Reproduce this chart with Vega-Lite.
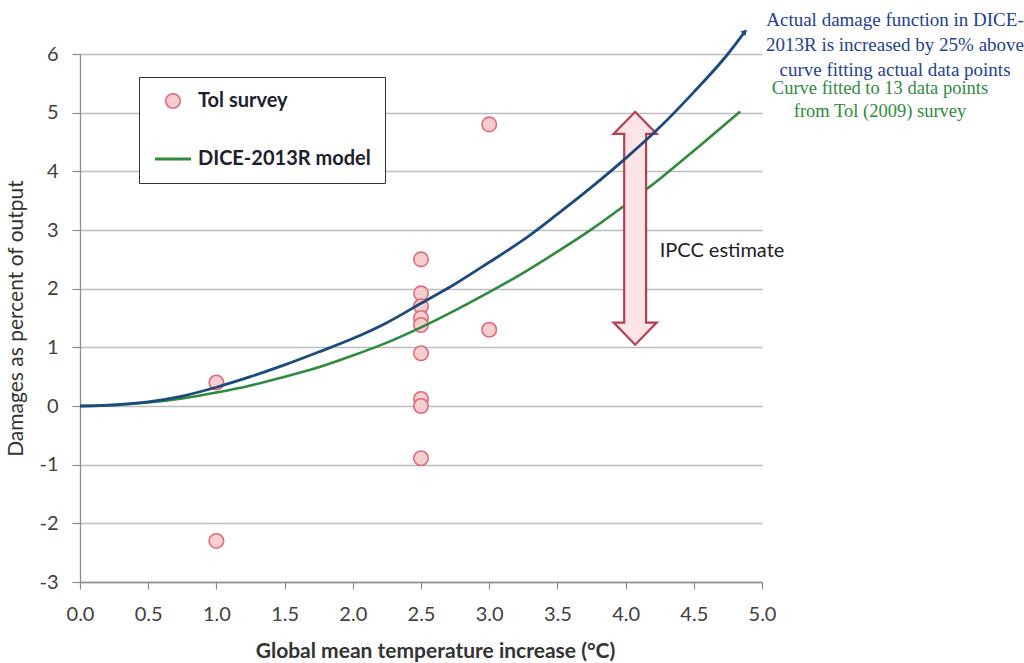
{
  "$schema": "https://vega.github.io/schema/vega-lite/v6.json",
  "autosize": "none",
  "width": 682,
  "height": 528,
  "padding": {"left": 80, "top": 54, "right": 262, "bottom": 81},
  "background": "white",
  "config": {
    "view": {"stroke": null},
    "font": "Lato",
    "axis": {
      "labelFont": "Lato",
      "labelFontSize": 20,
      "labelColor": "#404040",
      "titleFont": "Lato",
      "titleColor": "#333333",
      "domainColor": "#8c8c8c",
      "tickColor": "#8c8c8c",
      "gridColor": "#bdbdbd",
      "gridWidth": 1.3,
      "domainWidth": 1.3,
      "tickWidth": 1.2
    }
  },
  "datasets": {
    "tol": [
      {"T": 1.0, "damage": 0.4, "series": "Tol survey"},
      {"T": 1.0, "damage": -2.3, "series": "Tol survey"},
      {"T": 2.5, "damage": 2.5, "series": "Tol survey"},
      {"T": 2.5, "damage": 1.92, "series": "Tol survey"},
      {"T": 2.5, "damage": 1.7, "series": "Tol survey"},
      {"T": 2.5, "damage": 1.5, "series": "Tol survey"},
      {"T": 2.5, "damage": 1.38, "series": "Tol survey"},
      {"T": 2.5, "damage": 0.9, "series": "Tol survey"},
      {"T": 2.5, "damage": 0.12, "series": "Tol survey"},
      {"T": 2.5, "damage": 0.0, "series": "Tol survey"},
      {"T": 2.5, "damage": -0.89, "series": "Tol survey"},
      {"T": 3.0, "damage": 4.8, "series": "Tol survey"},
      {"T": 3.0, "damage": 1.3, "series": "Tol survey"}
    ],
    "curves": [
      {"T": 0.0, "v": 0.0, "curve": "Actual DICE-2013R"},
      {"T": 0.25, "v": 0.02, "curve": "Actual DICE-2013R"},
      {"T": 0.5, "v": 0.07, "curve": "Actual DICE-2013R"},
      {"T": 0.75, "v": 0.17, "curve": "Actual DICE-2013R"},
      {"T": 1.0, "v": 0.32, "curve": "Actual DICE-2013R"},
      {"T": 1.25, "v": 0.5, "curve": "Actual DICE-2013R"},
      {"T": 1.5, "v": 0.7, "curve": "Actual DICE-2013R"},
      {"T": 1.75, "v": 0.92, "curve": "Actual DICE-2013R"},
      {"T": 2.0, "v": 1.15, "curve": "Actual DICE-2013R"},
      {"T": 2.25, "v": 1.42, "curve": "Actual DICE-2013R"},
      {"T": 2.5, "v": 1.75, "curve": "Actual DICE-2013R"},
      {"T": 2.75, "v": 2.08, "curve": "Actual DICE-2013R"},
      {"T": 3.0, "v": 2.45, "curve": "Actual DICE-2013R"},
      {"T": 3.25, "v": 2.83, "curve": "Actual DICE-2013R"},
      {"T": 3.5, "v": 3.27, "curve": "Actual DICE-2013R"},
      {"T": 3.75, "v": 3.73, "curve": "Actual DICE-2013R"},
      {"T": 4.0, "v": 4.22, "curve": "Actual DICE-2013R"},
      {"T": 4.25, "v": 4.75, "curve": "Actual DICE-2013R"},
      {"T": 4.5, "v": 5.35, "curve": "Actual DICE-2013R"},
      {"T": 4.75, "v": 6.0, "curve": "Actual DICE-2013R"},
      {"T": 4.875, "v": 6.38, "curve": "Actual DICE-2013R"},
      {"T": 0.0, "v": 0.0, "curve": "DICE-2013R model"},
      {"T": 0.25, "v": 0.015, "curve": "DICE-2013R model"},
      {"T": 0.5, "v": 0.06, "curve": "DICE-2013R model"},
      {"T": 0.75, "v": 0.13, "curve": "DICE-2013R model"},
      {"T": 1.0, "v": 0.23, "curve": "DICE-2013R model"},
      {"T": 1.25, "v": 0.35, "curve": "DICE-2013R model"},
      {"T": 1.5, "v": 0.5, "curve": "DICE-2013R model"},
      {"T": 1.75, "v": 0.66, "curve": "DICE-2013R model"},
      {"T": 2.0, "v": 0.86, "curve": "DICE-2013R model"},
      {"T": 2.25, "v": 1.08, "curve": "DICE-2013R model"},
      {"T": 2.5, "v": 1.34, "curve": "DICE-2013R model"},
      {"T": 2.75, "v": 1.63, "curve": "DICE-2013R model"},
      {"T": 3.0, "v": 1.94, "curve": "DICE-2013R model"},
      {"T": 3.25, "v": 2.27, "curve": "DICE-2013R model"},
      {"T": 3.5, "v": 2.63, "curve": "DICE-2013R model"},
      {"T": 3.75, "v": 3.01, "curve": "DICE-2013R model"},
      {"T": 4.0, "v": 3.43, "curve": "DICE-2013R model"},
      {"T": 4.25, "v": 3.87, "curve": "DICE-2013R model"},
      {"T": 4.5, "v": 4.35, "curve": "DICE-2013R model"},
      {"T": 4.84, "v": 5.02, "curve": "DICE-2013R model"}
    ],
    "ipcc": [
      {"T": 4.07, "low": 1.04, "high": 5.02, "mid": 3.03, "label": "IPCC estimate", "labelT": 4.25, "labelY": 2.64}
    ],
    "notes": [
      {"T": 5.975, "y": 6.58, "text": ["Actual damage function in DICE-", "2013R is increased by 25% above", "curve fitting actual data points"], "kind": "blue"},
      {"T": 5.865, "y": 5.42, "text": ["Curve fitted to 13 data points", "from Tol (2009) survey"], "kind": "green"}
    ]
  },
  "layer": [
    {
      "data": {"name": "tol"},
      "mark": {"type": "point", "filled": true, "opacity": 1},
      "encoding": {
        "x": {
          "field": "T", "type": "quantitative",
          "scale": {"domain": [0, 5], "nice": false, "zero": false},
          "axis": {
            "title": "Global mean temperature increase (°C)",
            "titleFontSize": 21, "titleFontWeight": "bold", "titlePadding": 16, "titleX": 355,
            "values": [0, 0.5, 1, 1.5, 2, 2.5, 3, 3.5, 4, 4.5, 5],
            "format": ".1f", "grid": false, "tickSize": 7, "labelPadding": 15, "labelFlush": false
          }
        },
        "y": {
          "field": "damage", "type": "quantitative",
          "scale": {"domain": [-3, 6], "nice": false, "zero": false},
          "axis": {
            "title": "Damages as percent of output",
            "titleFontSize": 21, "titleFontWeight": "normal", "titlePadding": 12,
            "values": [-3, -2, -1, 0, 1, 2, 3, 4, 5, 6],
            "labelExpr": "datum.value < 0 ? '-' + abs(datum.value) : '' + datum.value",
            "grid": true, "tickSize": 8, "labelPadding": 14
          }
        },
        "fill": {
          "field": "series", "type": "nominal",
          "scale": {"domain": ["Tol survey", "DICE-2013R model"], "range": ["#f8cdd1", "#2e8b3e"]},
          "legend": {
            "title": null, "orient": "none", "legendX": 59, "legendY": 23,
            "padding": 14, "strokeColor": "#333333", "fillColor": "white",
            "rowPadding": 27, "labelFont": "Lato", "labelFontSize": 20, "labelFontWeight": "bold",
            "labelColor": "#1e1e2e", "labelOffset": 5, "labelLimit": 400, "symbolOpacity": 1
          }
        },
        "stroke": {
          "field": "series", "type": "nominal",
          "scale": {"domain": ["Tol survey", "DICE-2013R model"], "range": ["#de6b7b", "#2e8b3e"]}
        },
        "shape": {
          "field": "series", "type": "nominal",
          "scale": {"domain": ["Tol survey", "DICE-2013R model"], "range": ["circle", "stroke"]}
        },
        "size": {
          "field": "series", "type": "ordinal",
          "scale": {"domain": ["Tol survey", "DICE-2013R model"], "range": [210, 1300]}
        },
        "strokeWidth": {
          "field": "series", "type": "ordinal",
          "scale": {"domain": ["Tol survey", "DICE-2013R model"], "range": [1.6, 3]}
        }
      }
    },
    {
      "data": {"name": "curves"},
      "transform": [{"filter": "datum.curve === 'DICE-2013R model'"}],
      "mark": {"type": "line", "interpolate": "monotone", "color": "#2e8b3e", "strokeWidth": 2.6},
      "encoding": {
        "x": {"field": "T", "type": "quantitative"},
        "y": {"field": "v", "type": "quantitative"}
      }
    },
    {
      "data": {"name": "ipcc"},
      "mark": {
        "type": "point", "filled": true, "opacity": 1,
        "shape": "M0,-1L0.185,-0.81L0.094,-0.81L0.094,0.81L0.185,0.81L0,1L-0.185,0.81L-0.094,0.81L-0.094,-0.81L-0.185,-0.81Z",
        "size": 54289, "fill": "#fde4e6", "stroke": "#b5404f", "strokeWidth": 2.2
      },
      "encoding": {
        "x": {"field": "T", "type": "quantitative"},
        "y": {"field": "mid", "type": "quantitative"}
      }
    },
    {
      "data": {"name": "curves"},
      "transform": [{"filter": "datum.curve === 'Actual DICE-2013R'"}],
      "mark": {"type": "line", "interpolate": "monotone", "color": "#1c4a7e", "strokeWidth": 2.8},
      "encoding": {
        "x": {"field": "T", "type": "quantitative"},
        "y": {"field": "v", "type": "quantitative"}
      }
    },
    {
      "data": {"name": "curves"},
      "transform": [{"filter": "datum.curve === 'Actual DICE-2013R' && datum.T > 4.8"}],
      "mark": {"type": "point", "shape": "triangle-up", "filled": true, "opacity": 1, "angle": 43, "size": 45, "color": "#1c4a7e"},
      "encoding": {
        "x": {"field": "T", "type": "quantitative"},
        "y": {"field": "v", "type": "quantitative"}
      }
    },
    {
      "data": {"name": "ipcc"},
      "mark": {"type": "text", "align": "left", "baseline": "middle", "font": "Lato", "fontSize": 20, "color": "#222222"},
      "encoding": {
        "x": {"field": "labelT", "type": "quantitative"},
        "y": {"field": "labelY", "type": "quantitative"},
        "text": {"field": "label"}
      }
    },
    {
      "data": {"name": "notes"},
      "transform": [{"filter": "datum.kind === 'blue'"}],
      "mark": {"type": "text", "align": "center", "baseline": "middle", "font": "Liberation Serif", "fontSize": 19, "lineHeight": 25, "color": "#233f94"},
      "encoding": {
        "x": {"field": "T", "type": "quantitative"},
        "y": {"field": "y", "type": "quantitative"},
        "text": {"field": "text"}
      }
    },
    {
      "data": {"name": "notes"},
      "transform": [{"filter": "datum.kind === 'green'"}],
      "mark": {"type": "text", "align": "center", "baseline": "middle", "font": "Liberation Serif", "fontSize": 18.5, "lineHeight": 23, "color": "#2e8b3e"},
      "encoding": {
        "x": {"field": "T", "type": "quantitative"},
        "y": {"field": "y", "type": "quantitative"},
        "text": {"field": "text"}
      }
    }
  ]
}
